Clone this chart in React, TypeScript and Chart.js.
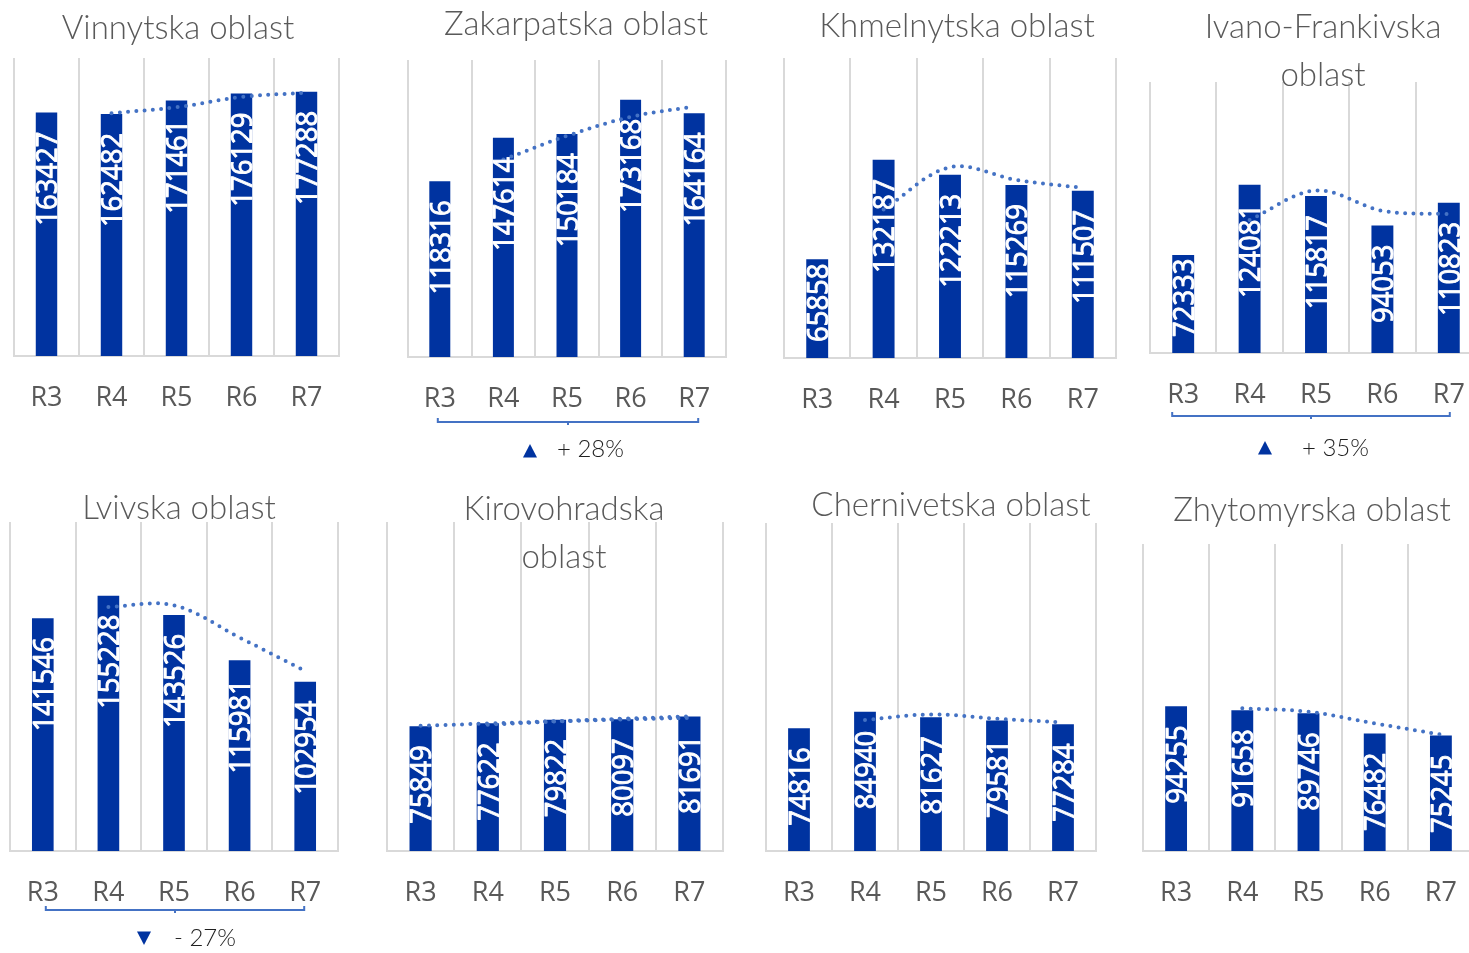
import React, { useEffect, useRef } from "react";
import { Chart, registerables } from "chart.js";
Chart.register(...registerables);

// ---------- DATA ----------
const categories = ["R3", "R4", "R5", "R6", "R7"];

const vinnytska = [163427, 162482, 171461, 176129, 177288];
const vinnytskaTrend = [null, 162950, 166970, 173800, 176710];

const zakarpatska = [118316, 147614, 150184, 173168, 164164];
const zakarpatskaTrend = [null, 132970, 148900, 161680, 168670];

const khmelnytska = [65858, 132187, 122213, 115269, 111507];
const khmelnytskaTrend = [null, 99020, 127200, 118740, 113390];

const ivanoFrankivska = [72333, 124081, 115817, 94053, 110823];
const ivanoFrankivskaTrend = [null, 98210, 119950, 104940, 102440];

const lvivska = [141546, 155228, 143526, 115981, 102954];
const lvivskaTrend = [null, 148390, 149380, 129750, 109470];

const kirovohradska = [75849, 77622, 79822, 80097, 81691];
const kirovohradskaTrend = [null, 76740, 78720, 79960, 80890];
const kirovohradskaTrend2 = [76100, 77500, 78900, 80400, 81800];

const chernivetska = [74816, 84940, 81627, 79581, 77284];
const chernivetskaTrend = [null, 79880, 83280, 80600, 78430];

const zhytomyrska = [94255, 91658, 89746, 76482, 75245];
const zhytomyrskaTrend = [null, 92960, 90700, 83110, 75860];

const titles = {
  vinnytska: "Vinnytska oblast",
  zakarpatska: "Zakarpatska oblast",
  khmelnytska: "Khmelnytska oblast",
  ivano: ["Ivano-Frankivska", "oblast"],
  lvivska: "Lvivska oblast",
  kirovohradska: ["Kirovohradska", "oblast"],
  chernivetska: "Chernivetska oblast",
  zhytomyrska: "Zhytomyrska oblast",
};

const changeZakarpatska = "+ 28%";
const changeIvano = "+ 35%";
const changeLviv = "- 27%";

const Y_MAX = 200000;

// ---------- STYLE ----------
const BAR = "#0033a0";
const TREND = "#4472c4";
const GRID = "#d9d9d9";
const AXIS_TEXT = "#595959";

// ---------- LAYOUT ----------
type Change = { text: string; up: boolean; dl: number; dr: number; dy: number; triDx: number; triDy: number; txtDx: number; txtDy: number };
type Panel = {
  key: string; title: string | string[]; values: number[]; trends: (number | null)[][];
  plotL: number; plotR: number; plotTop: number; base: number; titleCX: number; titleMid: number;
  rowTop: number; rowH: number; change?: Change;
};

const panels: Panel[] = [
  { key: "p1", title: titles.vinnytska, values: vinnytska, trends: [vinnytskaTrend], plotL: 14, plotR: 339, plotTop: 58, base: 356, titleCX: 178, titleMid: 28.5, rowTop: 0, rowH: 470 },
  { key: "p2", title: titles.zakarpatska, values: zakarpatska, trends: [zakarpatskaTrend], plotL: 408, plotR: 726, plotTop: 60, base: 357, titleCX: 576, titleMid: 24.5, rowTop: 0, rowH: 470,
    change: { text: changeZakarpatska, up: true, dl: -2, dr: 4, dy: 65, triDx: -38, triDy: 94, txtDx: -11, txtDy: 92 } },
  { key: "p3", title: titles.khmelnytska, values: khmelnytska, trends: [khmelnytskaTrend], plotL: 784, plotR: 1116, plotTop: 58, base: 358, titleCX: 957, titleMid: 26.5, rowTop: 0, rowH: 470 },
  { key: "p4", title: titles.ivano, values: ivanoFrankivska, trends: [ivanoFrankivskaTrend], plotL: 1150, plotR: 1482, plotTop: 82, base: 353, titleCX: 1323, titleMid: 27, rowTop: 0, rowH: 470,
    change: { text: changeIvano, up: true, dl: -11, dr: 1, dy: 63, triDx: -46, triDy: 95, txtDx: -9, txtDy: 95 } },
  { key: "p5", title: titles.lvivska, values: lvivska, trends: [lvivskaTrend], plotL: 10, plotR: 338, plotTop: 522, base: 851, titleCX: 179, titleMid: 508, rowTop: 470, rowH: 483,
    change: { text: changeLviv, up: false, dl: 3, dr: -1, dy: 59, triDx: -31, triDy: 87, txtDx: -1, txtDy: 87 } },
  { key: "p6", title: titles.kirovohradska, values: kirovohradska, trends: [kirovohradskaTrend, kirovohradskaTrend2], plotL: 387, plotR: 723, plotTop: 522, base: 851, titleCX: 564, titleMid: 509, rowTop: 470, rowH: 483 },
  { key: "p7", title: titles.chernivetska, values: chernivetska, trends: [chernivetskaTrend], plotL: 766, plotR: 1096, plotTop: 523, base: 851, titleCX: 951, titleMid: 505, rowTop: 470, rowH: 483 },
  { key: "p8", title: titles.zhytomyrska, values: zhytomyrska, trends: [zhytomyrskaTrend], plotL: 1143, plotR: 1474, plotTop: 544, base: 851, titleCX: 1312, titleMid: 510, rowTop: 470, rowH: 483 },
];

const TITLE_SIZE = 33;
const TITLE_LH = 48;
const LABEL_FONT = 30;
const LABEL_SX = 0.915;
const TICK_FONT = 27;

function geometry(p: Panel) {
  const lines = Array.isArray(p.title) ? p.title.length : 1;
  const w = Math.max(0, 2 * (p.titleCX - (p.plotL + p.plotR) / 2));
  const canvasLeft = p.plotL - 2;
  const width = p.plotR - p.plotL + w + 4;
  const padTop = p.titleMid - p.rowTop - TITLE_LH / 2;
  const padBottom = p.plotTop - p.rowTop - padTop - lines * TITLE_LH;
  const xh = p.rowTop + p.rowH - p.base;
  return { w, canvasLeft, width, height: p.rowH, padTop, padBottom, xh };
}

const valueLabelPlugin = {
  id: "valueLabels",
  afterDatasetsDraw(chart: any) {
    const meta = chart.getDatasetMeta(0);
    const data = chart.data.datasets[0].data;
    const ctx = chart.ctx;
    ctx.save();
    ctx.font = `${LABEL_FONT}px "Open Sans"`;
    ctx.fillStyle = "#ffffff";
    ctx.strokeStyle = "#ffffff";
    ctx.lineWidth = 0.9;
    ctx.lineJoin = "round";
    ctx.textAlign = "left";
    ctx.textBaseline = "alphabetic";
    const capH = 0.714 * LABEL_FONT;
    meta.data.forEach((bar: any, i: number) => {
      const text = String(data[i]);
      const len = ctx.measureText(text).width * LABEL_SX;
      const { x, y, base } = bar.getProps(["x", "y", "base"], true);
      let top = y + 19;
      if (top + len > base - 16) top = base - 16 - len;
      const bottom = top + len;
      ctx.save();
      ctx.translate(x + capH / 2, bottom);
      ctx.rotate(-Math.PI / 2);
      ctx.scale(LABEL_SX, 1);
      ctx.fillText(text, 0, 0);
      ctx.strokeText(text, 0, 0);
      ctx.restore();
    });
    ctx.restore();
  },
};

function makeChangePlugin(p: Panel) {
  return {
    id: "changeBracket",
    afterDraw(chart: any) {
      const c = p.change;
      if (!c) return;
      const ctx = chart.ctx;
      const xs = chart.scales.x;
      const base = chart.chartArea.bottom;
      const left = xs.getPixelForValue(0) + c.dl;
      const right = xs.getPixelForValue(categories.length - 1) + c.dr;
      const mid = (left + right) / 2;
      const by = base + c.dy;
      ctx.save();
      ctx.strokeStyle = TREND;
      ctx.lineWidth = 2;
      ctx.beginPath();
      ctx.moveTo(left, by - 4);
      ctx.lineTo(left, by);
      ctx.lineTo(right, by);
      ctx.lineTo(right, by - 4);
      ctx.moveTo(mid, by);
      ctx.lineTo(mid, by + 3);
      ctx.stroke();
      const tx = mid + c.triDx;
      const ty = base + c.triDy;
      ctx.fillStyle = BAR;
      ctx.beginPath();
      if (c.up) {
        ctx.moveTo(tx, ty - 7);
        ctx.lineTo(tx + 7, ty + 6.5);
        ctx.lineTo(tx - 7, ty + 6.5);
      } else {
        ctx.moveTo(tx, ty + 7);
        ctx.lineTo(tx + 7, ty - 6.5);
        ctx.lineTo(tx - 7, ty - 6.5);
      }
      ctx.closePath();
      ctx.fill();
      ctx.fillStyle = "#1f1f1f";
      ctx.font = `300 24px Lato`;
      ctx.textAlign = "left";
      ctx.textBaseline = "middle";
      ctx.fillText(c.text, mid + c.txtDx, base + c.txtDy);
      ctx.restore();
    },
  };
}

function PanelChart({ p }: { p: Panel }) {
  const ref = useRef<HTMLCanvasElement | null>(null);
  const g = geometry(p);
  useEffect(() => {
    if (!ref.current) return;
    const datasets: any[] = [
      {
        type: "bar",
        data: p.values,
        backgroundColor: BAR,
        barPercentage: 0.33,
        categoryPercentage: 1,
        order: 2,
      },
      ...p.trends.map((t) => ({
        type: "line",
        data: t,
        borderColor: TREND,
        borderWidth: 4,
        borderDash: [0, 8.3],
        borderCapStyle: "round",
        pointRadius: 0,
        tension: 0.35,
        fill: false,
        order: 1,
      })),
    ];
    const chart = new Chart(ref.current, {
      type: "bar",
      data: { labels: categories, datasets },
      options: {
        responsive: false,
        animation: false,
        devicePixelRatio: 1,
        layout: { padding: { left: 2, right: 2, top: 0, bottom: 0 } },
        plugins: {
          legend: { display: false },
          tooltip: { enabled: false },
          title: {
            display: true,
            text: p.title,
            color: AXIS_TEXT,
            font: { family: "Lato", weight: 300, size: TITLE_SIZE, lineHeight: TITLE_LH / TITLE_SIZE },
            padding: { top: g.padTop, bottom: g.padBottom },
          },
        },
        scales: {
          x: {
            grid: {
              display: true,
              offset: true,
              color: GRID,
              lineWidth: 2,
              drawTicks: true,
              tickLength: 26,
              tickColor: "rgba(0,0,0,0)",
            },
            border: { display: true, color: GRID, width: 2 },
            ticks: {
              color: AXIS_TEXT,
              font: { family: "Open Sans", size: TICK_FONT },
              padding: 0,
              maxRotation: 0,
              minRotation: 0,
              autoSkip: false,
            },
            afterFit: (s: any) => {
              s.height = g.xh;
            },
          },
          y: {
            position: "right",
            min: 0,
            max: Y_MAX,
            grid: { display: false },
            border: { display: false },
            ticks: { display: false, padding: 0 },
            afterFit: (s: any) => {
              s.width = g.w;
            },
          },
        },
      } as any,
      plugins: [valueLabelPlugin, makeChangePlugin(p)],
    });
    return () => chart.destroy();
  }, []);
  return (
    <canvas
      ref={ref}
      width={g.width}
      height={g.height}
      style={{ position: "absolute", left: g.canvasLeft, top: p.rowTop, width: g.width, height: g.height }}
    />
  );
}

export default function App() {
  return (
    <div
      style={{
        position: "absolute",
        left: 0,
        top: 0,
        width: 1469,
        height: 953,
        overflow: "hidden",
        background: "#ffffff",
      }}
    >
      {panels.map((p) => (
        <PanelChart key={p.key} p={p} />
      ))}
    </div>
  );
}
